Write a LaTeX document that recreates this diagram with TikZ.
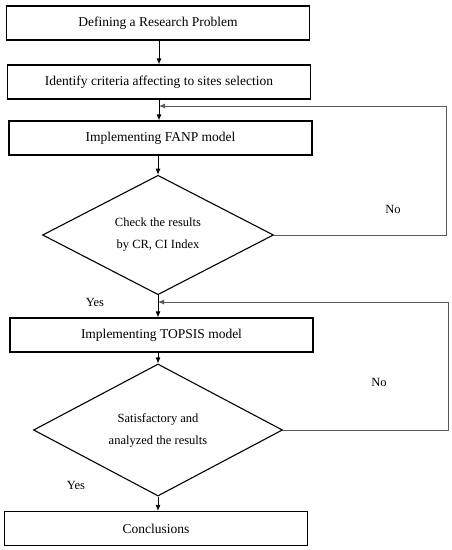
\documentclass[tikz,border=0pt]{standalone}
\usepackage{fontspec}
\setmainfont{Liberation Serif}
\usepackage{tikz}
\usetikzlibrary{arrows.meta,calc,positioning,shapes.geometric}
\definecolor{loopgray}{RGB}{90,90,90}

\begin{document}
\begin{tikzpicture}[
    x=1pt, y=1pt,
    font=\fontsize{13.5}{16}\selectfont,
    box/.style={draw, line width=1.2pt, align=center, minimum width=303pt, minimum height=34pt, inner sep=0pt},
    decision/.style={draw, diamond, line width=1.1pt, align=center, inner sep=0pt,
      font=\fontsize{12.5}{22}\selectfont},
    arrow/.style={-{Latex[length=6pt,width=5pt]}, line width=0.8pt},
    back/.style={-{Latex[length=6pt,width=5pt]}, line width=0.8pt, draw=loopgray},
    answer/.style={font=\fontsize{12.5}{15}\selectfont}
  ]
    \useasboundingbox (0,0) rectangle (452,550);
    \node[box] (define) at (158,527) {Defining a Research Problem};
    \node[box] (criteria) at (159,468) {Identify criteria affecting to sites selection};
    \node[box] (fanp) at (160.5,412) {Implementing FANP model};
    \node[decision, minimum width=231pt, minimum height=116pt] (check) at (158,315) {Check the results\\by CR, CI Index};
    \node[box] (topsis) at (161.5,215) {Implementing TOPSIS model};
    \node[decision, minimum width=249pt, minimum height=120pt] (satisfy) at (158,120) {Satisfactory and\\analyzed the results};
    \node[box] (concl) at (156,21.5) {Conclusions};

    \node[answer] (no1) at (393,341) {No};
    \node[answer] (yes1) at (95,248) {Yes};
    \node[answer] (no2) at (379,168) {No};
    \node[answer] (yes2) at (76,65) {Yes};

    \coordinate (fanpin) at (159,444);
    \coordinate (topsisin) at (158,248);
    \coordinate (right1) at (446,0);
    \coordinate (right2) at (448,0);

    \draw[arrow] (define.south -| 159,0) -- (criteria.north -| 159,0);
    \draw[arrow] (criteria.south -| 159,0) -- (fanp.north -| 159,0);
    \draw[arrow] (fanp.south -| 158,0) -- (check.north);
    \draw[arrow] (check.south) -- (topsis.north -| check.south);
    \draw[arrow] (topsis.south -| 158,0) -- (satisfy.north);
    \draw[arrow] (satisfy.south) -- (concl.north -| satisfy.south);
    \draw[back] (check.east) -- (check.east -| right1) |- (fanpin);
    \draw[back] (satisfy.east) -- (satisfy.east -| right2) |- (topsisin);
  \end{tikzpicture}
\end{document}
